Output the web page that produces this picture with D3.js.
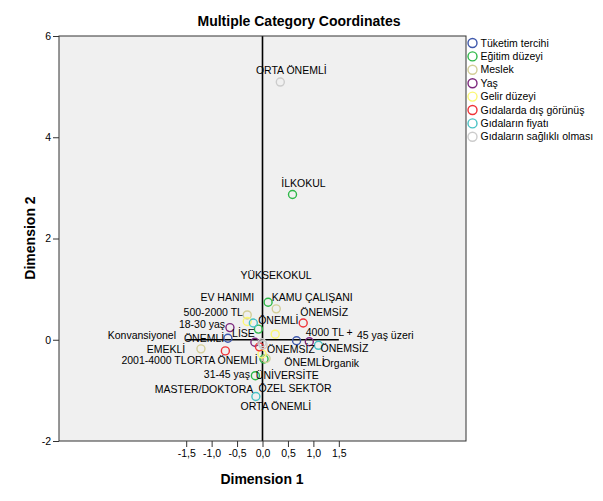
<!DOCTYPE html>
<html><head><meta charset="utf-8">
<script src="https://cdn.jsdelivr.net/npm/d3@7"></script>
<style>body{margin:0;background:#fff} text{font-family:"Liberation Sans",Arial,sans-serif}</style>
</head><body><svg id="c" width="603" height="501"></svg>
<script>
// ---- data ----
const variables = ["Tüketim tercihi","Eğitim düzeyi","Meslek","Yaş","Gelir düzeyi","Gıdalarda dış görünüş","Gıdaların fiyatı","Gıdaların sağlıklı olması"];
const variableColors = ["#3E58AC","#2EB848","#D3CE97","#7C287D","#FBF873","#EF3338","#48C2C5","#CCCCCC"];
const categories = [
  "Konvansiyonel","Organik",
  "İLKOKUL","YÜKSEKOKUL","LİSE","ÜNİVERSİTE","MASTER/DOKTORA",
  "KAMU ÇALIŞANI","EV HANIMI","EMEKLİ","ÖZEL SEKTÖR",
  "18-30 yaş","31-45 yaş","45 yaş üzeri",
  "500-2000 TL","4000 TL +","2001-4000 TL",
  "ÖNEMSİZ","ORTA ÖNEMLİ","ÖNEMLİ",
  "ÖNEMLİ","ÖNEMSİZ","ORTA ÖNEMLİ",
  "ORTA ÖNEMLİ","ÖNEMSİZ","ÖNEMLİ"
];
const categoryVariable = [0,0, 1,1,1,1,1, 2,2,2,2, 3,3,3, 4,4,4, 5,5,5, 6,6,6, 7,7,7];
const dim1 = [-0.68,0.67, 0.59,0.11,-0.08,-0.14,0.03, 0.27,-0.30,-1.21,0.07, -0.64,-0.15,0.92, -0.30,0.25,-0.01, 0.80,-0.73,-0.06, -0.18,1.10,-0.13, 0.35,-0.01,0.01];
const dim2 = [0.03,-0.02, 2.87,0.74,0.21,-0.71,-0.38, 0.61,0.49,-0.18,-0.37, 0.24,-0.05,-0.04, 0.36,0.11,-0.28, 0.33,-0.22,-0.14, 0.33,-0.11,-1.12, 5.09,-0.06,-0.10];
const xTicks = [-1.5,-1.0,-0.5,0.0,0.5,1.0,1.5];
const yTicks = [-2,0,2,4,6];

// ---- layout (label offsets in px, kept apart from the data) ----
const labelDx = [-86,44, 11,8,-15,32,-60, 36,-20,-35,29, -28,-28,76, -34,54,-108, 21,-3,45, 25,26,20, 11,29,-59];
const labelDy = [-3,23, -11,-27,4,0,30, -12,-18,0,30, -3,32,-6, -9,-2,6, -11,9,15, -3,3,10, -12,7,-6];

const svg = d3.select("#c");
const L=59,R=466,T=36,B=441;
const x = d3.scaleLinear().domain([-4,4]).range([L,R]);
const y = d3.scaleLinear().domain([-2,6]).range([B,T]);

svg.append("rect").attr("x",L).attr("y",T).attr("width",R-L).attr("height",B-T)
  .attr("fill","#f0f0f0");

// reference lines
svg.append("line").attr("x1",x(0)).attr("x2",x(0)).attr("y1",y(6)).attr("y2",y(-2))
  .attr("stroke","#000").attr("stroke-width",1.6);
svg.append("line").attr("x1",x(-1.5)).attr("x2",x(1.5)).attr("y1",y(0)).attr("y2",y(0))
  .attr("stroke","#000").attr("stroke-width",1.6);

svg.append("rect").attr("x",L).attr("y",T).attr("width",R-L).attr("height",B-T)
  .attr("fill","none").attr("stroke","#333").attr("stroke-width",1);

const fmtX = d => d3.format(".1f")(d).replace("−","-").replace(".",",");
const fmtY = d => d3.format("d")(d).replace("−","-");

const ax = svg.append("g").attr("transform",`translate(0,${B})`)
  .call(d3.axisBottom(x).tickValues(xTicks).tickSize(6).tickPadding(3).tickFormat(fmtX));
const ay = svg.append("g").attr("transform",`translate(${L},0)`)
  .call(d3.axisLeft(y).tickValues(yTicks).tickSize(6).tickPadding(2).tickFormat(fmtY));
[ax,ay].forEach(g=>{
  g.select(".domain").remove();
  g.selectAll("line").attr("stroke","#333");
  g.selectAll("text").attr("font-size","10.5px").attr("fill","#000").style("font-family","'Liberation Sans',Arial,sans-serif");
});

// points
const idx = d3.range(categories.length);
svg.append("g").selectAll("circle").data(idx).join("circle")
  .attr("cx",i=>x(dim1[i])).attr("cy",i=>y(dim2[i])).attr("r",4)
  .attr("fill","none").attr("stroke",i=>variableColors[categoryVariable[i]]).attr("stroke-width",1.4);

// labels
svg.append("g").selectAll("text").data(idx).join("text")
  .attr("x",i=>x(dim1[i])+labelDx[i]).attr("y",i=>y(dim2[i])+labelDy[i])
  .attr("dy","0.35em").attr("text-anchor","middle").attr("font-size","10.5px").attr("fill","#000")
  .text(i=>categories[i]);

// titles
svg.append("text").attr("x",299).attr("y",26).attr("text-anchor","middle")
  .attr("font-size","14px").attr("font-weight","bold").text("Multiple Category Coordinates");
svg.append("text").attr("x",262).attr("y",484).attr("text-anchor","middle")
  .attr("font-size","14px").attr("font-weight","bold").text("Dimension 1");
svg.append("text").attr("transform","translate(35,238) rotate(-90)").attr("text-anchor","middle")
  .attr("font-size","14px").attr("font-weight","bold").text("Dimension 2");

// legend
const lg = svg.append("g").selectAll("g").data(variables).join("g")
  .attr("transform",(d,i)=>`translate(472.5,${43+13.4*i})`);
lg.append("circle").attr("r",4.5).attr("fill","none").attr("stroke-width",1.4)
  .attr("stroke",(d,i)=>variableColors[i]);
lg.append("text").attr("x",8).attr("dy","0.35em").attr("font-size","10.5px").attr("fill","#000").text(d=>d);
</script></body></html>
